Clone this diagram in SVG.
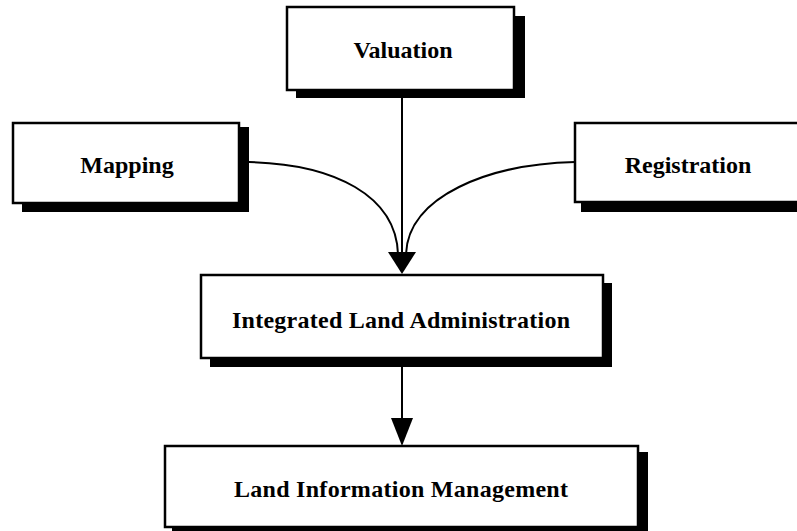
<svg xmlns="http://www.w3.org/2000/svg" width="797" height="531" viewBox="0 0 797 531">
  <style>
    .shadow { fill: #000; }
    .box { fill: #fff; stroke: #000; stroke-width: 2.5; }
    .label { font-family: "Liberation Serif", "Times New Roman", serif; font-weight: bold; font-size: 24px; fill: #000; text-anchor: middle; }
    .wire { fill: none; stroke: #000; stroke-width: 2; }
    .head { fill: #000; }
  </style>
  <rect width="797" height="531" fill="#fff"/>

  <g id="connectors">
    <path class="wire" d="M402,97 V256"/>
    <path class="wire" d="M249,162 C335,164 396,196 398,254"/>
    <path class="wire" d="M575,162 C489,164 408,196 406,254"/>
    <polygon class="head" points="388,252 416,252 402,274"/>
    <path class="wire" d="M402,367 V422"/>
    <polygon class="head" points="391,418 413,418 402,446"/>
  </g>

  <g id="valuation">
    <rect class="shadow" x="296" y="16" width="229" height="82"/>
    <rect class="box" x="287" y="7" width="227" height="83"/>
    <text class="label" x="403" y="58">Valuation</text>
  </g>

  <g id="mapping">
    <rect class="shadow" x="22" y="127" width="227" height="85"/>
    <rect class="box" x="13" y="123" width="226" height="80"/>
    <text class="label" x="127" y="173">Mapping</text>
  </g>

  <g id="registration">
    <rect class="shadow" x="581" y="130" width="240" height="82"/>
    <rect class="box" x="575" y="123" width="240" height="79"/>
    <text class="label" x="688" y="173">Registration</text>
  </g>

  <g id="integrated-land-administration">
    <rect class="shadow" x="210" y="283" width="402" height="84"/>
    <rect class="box" x="201" y="275" width="402" height="83"/>
    <text class="label" x="401" y="328" textLength="338">Integrated Land Administration</text>
  </g>

  <g id="land-information-management">
    <rect class="shadow" x="172" y="452" width="476" height="90"/>
    <rect class="box" x="165" y="446" width="473" height="81"/>
    <text class="label" x="401" y="497" textLength="334">Land Information Management</text>
  </g>
</svg>
